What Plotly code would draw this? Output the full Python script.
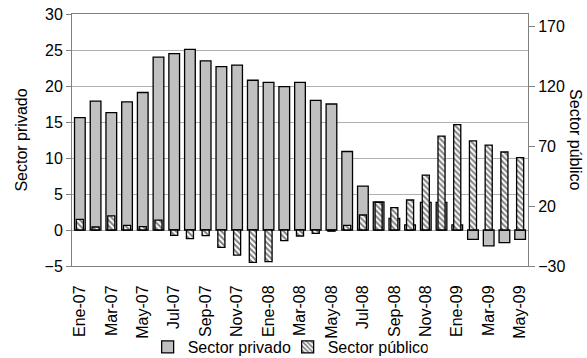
import plotly.graph_objects as go

months = ["Ene-07", "Feb-07", "Mar-07", "Abr-07", "May-07", "Jun-07", "Jul-07", "Ago-07",
          "Sep-07", "Oct-07", "Nov-07", "Dic-07", "Ene-08", "Feb-08", "Mar-08", "Abr-08",
          "May-08", "Jun-08", "Jul-08", "Ago-08", "Sep-08", "Oct-08", "Nov-08", "Dic-08",
          "Ene-09", "Feb-09", "Mar-09", "Abr-09", "May-09"]

privado = [15.6, 17.9, 16.3, 17.8, 19.1, 24.0, 24.5, 25.1, 23.5, 22.7, 22.9, 20.8, 20.5,
           19.9, 20.5, 18.0, 17.5, 10.9, 6.1, 3.9, 1.6, 0.7, 3.85, 3.85, 0.7, -1.3, -2.2,
           -1.75, -1.3]

publico = [8.9, 2.5, 11.7, 3.9, 2.8, 8.3, -4.4, -7.2, -4.7, -14.5, -21.0, -27.0, -26.4,
           -8.9, -5.0, -2.8, -1.0, 3.9, 12.5, 23.0, 18.6, 25.0, 45.8, 78.3, 87.8, 74.2,
           70.8, 65.0, 60.3]

left_ticks = [-5, 0, 5, 10, 15, 20, 25, 30]
right_ticks = [-30, 20, 70, 120, 170]
x_labels = months[::2]

FONT = "Liberation Sans, Arial, sans-serif"

fig = go.Figure()
fig.add_trace(go.Bar(
    x=months, y=privado, name="Sector privado", width=0.68,
    marker=dict(color="#c0c0c0", line=dict(color="black", width=1.3)),
    yaxis="y"))
fig.add_trace(go.Bar(
    x=months, y=publico, name="Sector público", width=0.45,
    marker=dict(color="white", line=dict(color="black", width=1.3),
                pattern=dict(shape="\\", fgcolor="black", bgcolor="white", size=4, solidity=0.5)),
    yaxis="y2"))

n = len(months)
fig.update_layout(
    width=587, height=358,
    margin=dict(l=72, r=59, t=14, b=92, autoexpand=False),
    paper_bgcolor="white", plot_bgcolor="white",
    barmode="overlay",
    font=dict(family=FONT, size=16, color="black"),
    showlegend=True,
    legend=dict(orientation="h", xref="container", yref="container", x=0.49, xanchor="center",
                y=11 / 358, yanchor="middle", font=dict(size=16), itemwidth=30,
                entrywidth=95, tracegroupgap=0, bgcolor="rgba(0,0,0,0)"),
    xaxis=dict(type="category", range=[-0.5, n - 0.5], tickvals=x_labels, ticktext=x_labels,
               tickangle=-90, ticks="", showgrid=False, showline=True, linecolor="#808080",
               mirror=True, linewidth=1, tickfont=dict(size=16), automargin=False,
               ticklabelstandoff=12),
    xaxis2=dict(overlaying="x", anchor="free", position=1 / 7, range=[-0.5, n - 0.5],
                tickvals=[i + 0.5 for i in range(1, n - 1, 2)], ticks="outside", ticklen=5,
                tickcolor="#808080", showticklabels=False, showgrid=False, showline=True,
                linecolor="#808080", zeroline=False),
    yaxis=dict(range=[-5, 30], tickvals=left_ticks, ticks="outside", ticklen=5,
               tickcolor="#808080", showgrid=True, gridcolor="#b0b0b0", zeroline=False,
               showline=True, linecolor="#808080", automargin=False,
               title=dict(text="Sector privado", font=dict(size=16), standoff=12)),
    yaxis2=dict(range=[-30, 180], tickvals=right_ticks, overlaying="y", side="right",
                ticks="outside", ticklen=6, tickcolor="#808080", showgrid=False,
                zeroline=False, showline=True, linecolor="#808080", automargin=False),
    annotations=[dict(text="Sector público", xref="paper", yref="paper", x=1.105, y=0.5,
                      xanchor="center", yanchor="middle", textangle=90, showarrow=False,
                      font=dict(size=16))],
)

fig.write_html("out.html")
